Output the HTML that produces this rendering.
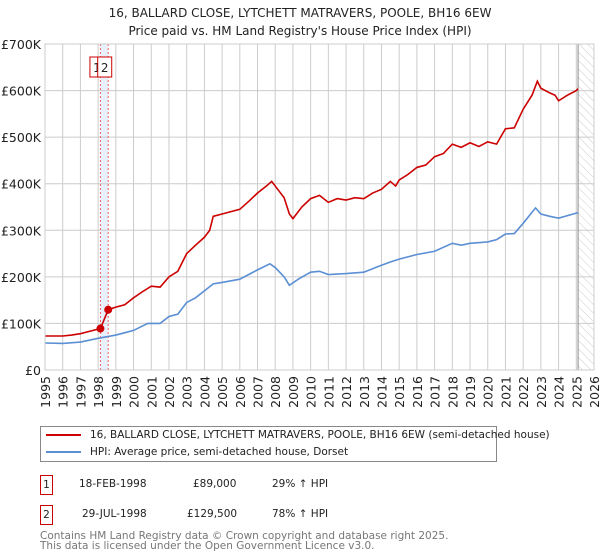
<!DOCTYPE html>
<html><head><meta charset="utf-8"><style>
body{margin:0;background:#fff;font-family:"DejaVu Sans","Liberation Sans",sans-serif;}
#wrap{position:relative;width:600px;height:560px;overflow:hidden;}
.t{position:absolute;font-size:12px;color:#222;white-space:nowrap;}
</style></head><body>
<div id="wrap">
<div class="t" style="left:0;width:600px;text-align:center;top:4px;font-size:12px;line-height:18px">16, BALLARD CLOSE, LYTCHETT MATRAVERS, POOLE, BH16 6EW<br>Price paid vs. HM Land Registry's House Price Index (HPI)</div>
<svg id="chart" width="600" height="420" style="position:absolute;left:0;top:0;font-family:'DejaVu Sans','Liberation Sans',sans-serif">
<defs><pattern id="hatch" width="6" height="6" patternUnits="userSpaceOnUse" patternTransform="rotate(-45)"><line x1="0" y1="0" x2="0" y2="6" stroke="#ccc" stroke-width="1"/></pattern></defs>
</svg>
<div style="position:absolute;left:40px;top:426px;width:455px;height:34px;border:1px solid #888;font-size:10.5px;color:#222">
<div style="position:absolute;left:5px;top:2px;white-space:nowrap"><span style="display:inline-block;width:35px;height:2px;background:#cc0000;vertical-align:middle;margin-right:9px"></span>16, BALLARD CLOSE, LYTCHETT MATRAVERS, POOLE, BH16 6EW (semi-detached house)</div>
<div style="position:absolute;left:5px;top:19px;white-space:nowrap"><span style="display:inline-block;width:35px;height:2px;background:#5b8fd4;vertical-align:middle;margin-right:9px"></span>HPI: Average price, semi-detached house, Dorset</div>
</div>
<div style="position:absolute;top:475px;left:0;width:600px;font-size:10.5px;color:#222">
<div style="position:absolute;left:40px;width:11px;height:18px;border:1px solid #c00;text-align:center;line-height:18px">1</div>
<div style="position:absolute;left:79px;top:3px">18-FEB-1998</div>
<div style="position:absolute;left:193px;top:3px">£89,000</div>
<div style="position:absolute;left:272px;top:3px">29% ↑ HPI</div></div>
<div style="position:absolute;top:505px;left:0;width:600px;font-size:10.5px;color:#222">
<div style="position:absolute;left:40px;width:11px;height:18px;border:1px solid #c00;text-align:center;line-height:18px">2</div>
<div style="position:absolute;left:82px;top:3px">29-JUL-1998</div>
<div style="position:absolute;left:187px;top:3px">£129,500</div>
<div style="position:absolute;left:272px;top:3px">78% ↑ HPI</div></div>
<div style="position:absolute;left:40px;top:531px;font-size:10.5px;line-height:10px;color:#777">Contains HM Land Registry data © Crown copyright and database right 2025.<br>This data is licensed under the Open Government Licence v3.0.</div>
</div>
<script>
const yTicks=[0,100,200,300,400,500,600,700];
const yTickLabels=["£0","£100K","£200K","£300K","£400K","£500K","£600K","£700K"];
const xTicks=[1995,1996,1997,1998,1999,2000,2001,2002,2003,2004,2005,2006,2007,2008,2009,2010,2011,2012,2013,2014,2015,2016,2017,2018,2019,2020,2021,2022,2023,2024,2025,2026];
const propT=[1995,1996,1996.5,1997,1997.5,1998.13,1998.57,1999,1999.5,2000,2000.5,2001,2001.5,2002,2002.5,2003,2003.5,2004,2004.3,2004.5,2005,2005.5,2006,2006.5,2007,2007.5,2007.8,2008.2,2008.5,2008.8,2009,2009.5,2010,2010.5,2011,2011.5,2012,2012.5,2013,2013.5,2014,2014.5,2014.8,2015,2015.5,2016,2016.5,2017,2017.5,2018,2018.5,2019,2019.5,2020,2020.5,2021,2021.5,2022,2022.5,2022.8,2023,2023.5,2023.8,2024,2024.5,2025,2025.1];
const propV=[73,73,75,78,83,89,129.5,135,140,155,168,180,178,200,212,250,268,285,300,330,335,340,345,362,380,395,405,385,370,335,325,350,368,375,360,368,365,370,368,380,388,405,395,408,420,435,440,458,465,485,478,488,480,490,485,518,520,560,590,620,605,595,590,578,590,600,604];
const hpiT=[1995,1996,1997,1998,1999,2000,2000.8,2001.5,2002,2002.5,2003,2003.5,2004,2004.5,2005,2006,2007,2007.7,2008,2008.5,2008.8,2009.3,2010,2010.5,2011,2012,2013,2014,2014.5,2015,2016,2017,2018,2018.5,2019,2020,2020.5,2021,2021.5,2022,2022.7,2023,2023.5,2024,2025.1];
const hpiV=[58,57,60,68,75,85,100,100,115,120,145,155,170,185,188,195,215,228,220,200,182,195,210,212,205,207,210,225,232,238,248,255,272,268,272,275,280,292,293,315,348,335,330,326,338];
const saleT=[1998.13,1998.57];
const saleV=[89,129.5];
const saleLabels=["1","2"];
const NS="http://www.w3.org/2000/svg";
const svg=document.getElementById('chart');
const X0=45,X1=594,Y0=370,Y1=44;
const xs=t=>X0+(t-1995)/(2026-1995)*(X1-X0);
const ys=v=>Y0-v/700*(Y0-Y1);
function mk(tag,attrs){const e=document.createElementNS(NS,tag);for(const k in attrs)e.setAttribute(k,attrs[k]);svg.appendChild(e);return e;}
let h=mk('rect',{x:xs(2025.1),y:Y1,width:X1-xs(2025.1),height:Y0-Y1,fill:'url(#hatch)'});


let b=mk('rect',{x:xs(saleT[0]),y:Y1,width:xs(saleT[1])-xs(saleT[0]),height:Y0-Y1,fill:'#e8f0fb'});


yTicks.forEach((v,i)=>{
 let l=mk('line',{x1:X0,x2:X1,y1:ys(v),y2:ys(v),stroke:'#ccc'});
 
 
 let t=mk('text',{x:X0-4,y:ys(v)+5,'text-anchor':'end','font-size':'12.5',fill:'#222'});t.textContent=yTickLabels[i];
 
 
});
xTicks.forEach(yr=>{
 let l=mk('line',{x1:xs(yr),x2:xs(yr),y1:Y1,y2:Y0,stroke:'#ccc'});
 
 
 let t=mk('text',{x:0,y:0,'font-size':'12.5',fill:'#222','text-anchor':'end',transform:`translate(${xs(yr)+5},${Y0+6}) rotate(-90)`});t.textContent=yr;
 
 
});
let vl=mk('line',{x1:xs(2025.1),x2:xs(2025.1),y1:Y1,y2:Y0,stroke:'#888'});


saleT.forEach((t,i)=>{
 let l=mk('line',{x1:xs(t),x2:xs(t),y1:Y1,y2:Y0,stroke:'#f06060','stroke-dasharray':'2,2'});
 
 
});
let hp=mk('polyline',{points:hpiT.map((t,i)=>xs(t)+','+ys(hpiV[i])).join(' '),fill:'none',stroke:'#5b8fd4','stroke-width':1.6});


let pp=mk('polyline',{points:propT.map((t,i)=>xs(t)+','+ys(propV[i])).join(' '),fill:'none',stroke:'#cc0000','stroke-width':1.6});


saleT.forEach((t,i)=>{
 let c=mk('circle',{cx:xs(t),cy:ys(saleV[i]),r:4,fill:'#cc0000'});
 
 
});
saleT.forEach((t,i)=>{
 const bx=xs(t)-10.5;
 let r=mk('rect',{x:bx,y:57,width:14,height:20,fill:'#fff',stroke:'#cc0000'});
 
 
 let tx=mk('text',{x:bx+7,y:72,'text-anchor':'middle','font-size':'12',fill:'#222'});tx.textContent=saleLabels[i];
 
 
});
let fr=mk('rect',{x:X0,y:Y1,width:X1-X0,height:Y0-Y1,fill:'none',stroke:'#ccc'});


</script>
</body></html>
